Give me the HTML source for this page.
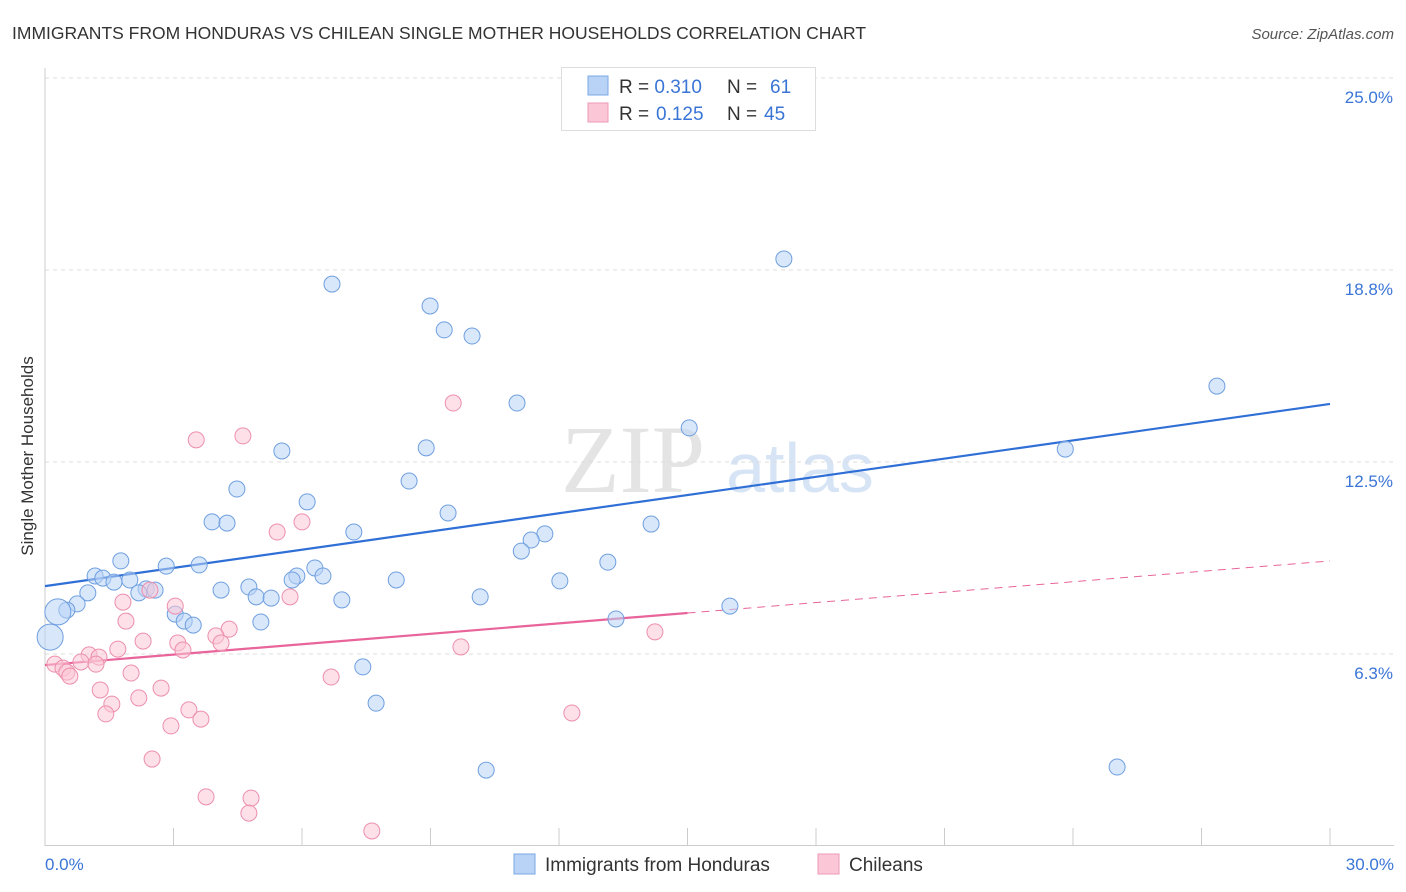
<!DOCTYPE html>
<html><head><meta charset="utf-8"><style>
body{margin:0;background:#fff;font-family:"Liberation Sans",sans-serif;}
svg{display:block}
</style></head><body>
<svg id="c" width="1406" height="892" xmlns="http://www.w3.org/2000/svg">
<text x="12" y="39" font-size="17.5" fill="#333">IMMIGRANTS FROM HONDURAS VS CHILEAN SINGLE MOTHER HOUSEHOLDS CORRELATION CHART</text>
<text x="1394" y="39" font-size="15" fill="#555" font-style="italic" text-anchor="end">Source: ZipAtlas.com</text>
<text x="33" y="456" font-size="17" fill="#333" text-anchor="middle" transform="rotate(-90 33 456)">Single Mother Households</text>
<g><text x="633" y="492" font-size="96" fill="#e4e4e4" font-family="Liberation Serif,serif" text-anchor="middle">ZIP</text><text x="800" y="492" font-size="70" fill="#d6e4f5" text-anchor="middle">atlas</text></g>
<g id="grid"></g><g id="axes"></g><g id="lines"></g><g id="pts"></g>
<g>
<rect x="561.500" y="67.500" width="254" height="63" fill="#fff" stroke="#ddd"/>
<rect x="588" y="76" width="20" height="19" fill="#b8d3f5" stroke="#7aa8e6"/>
<rect x="588" y="103" width="20" height="19" fill="#fbc6d6" stroke="#ee9ab5"/>
<text x="619" y="93" font-size="19" fill="#333">R = <tspan fill="#3a75d6">0.310</tspan><tspan x="727">N = </tspan><tspan x="770" fill="#3a75d6">61</tspan></text>
<text x="619" y="120" font-size="19" fill="#333">R = <tspan x="656" fill="#3a75d6">0.125</tspan><tspan x="727">N = </tspan><tspan x="764" fill="#3a75d6">45</tspan></text>
</g>
<g>
<rect x="514" y="854" width="21" height="20" fill="#b8d3f5" stroke="#7aa8e6"/>
<text x="545" y="871" font-size="19" fill="#333">Immigrants from Honduras</text>
<rect x="818" y="854" width="21" height="20" fill="#fbc6d6" stroke="#ee9ab5"/>
<text x="849" y="871" font-size="19" fill="#333">Chileans</text>
</g>
</svg>
<script>
const yTicks=[6.25,12.5,18.75,25];
const yTickLabels=["6.3%","12.5%","18.8%","25.0%"];
const xTickLabels=["0.0%","30.0%"];
const blueX=[6.70,17.25,8.99,9.32,9.97,11.02,27.36,15.04,5.53,8.90,23.82,8.50,4.48,6.12,9.41,3.90,4.25,14.15,7.21,11.67,11.35,11.12,1.77,13.14,2.83,3.60,6.30,1.17,1.35,1.98,1.61,5.88,6.49,5.77,8.20,12.02,4.76,4.11,2.36,2.57,2.19,1.00,4.93,5.28,6.93,10.16,0.75,15.99,0.51,0.30,3.04,3.25,3.46,5.04,13.33,0.12,7.42,7.73,10.30,25.03];
const blueY=[18.29,19.11,17.58,16.80,16.60,14.42,14.97,13.61,12.86,12.96,12.92,11.88,11.62,11.20,10.84,10.55,10.51,10.48,10.22,10.16,9.96,9.60,9.28,9.24,9.11,9.15,9.05,8.79,8.72,8.66,8.59,8.79,8.79,8.66,8.66,8.63,8.43,8.33,8.37,8.33,8.24,8.24,8.11,8.07,8.01,8.11,7.88,7.81,7.68,7.62,7.55,7.32,7.19,7.29,7.39,6.80,5.83,4.65,2.47,2.57];
const pinkX=[9.53,4.62,3.53,6.00,5.42,1.82,3.04,5.72,2.45,1.89,4.30,3.99,14.24,2.29,3.10,4.11,3.22,9.71,1.70,1.03,1.26,0.84,1.19,0.23,0.42,0.51,0.58,2.01,6.68,1.29,2.71,2.19,1.56,1.42,3.36,3.64,2.94,12.30,2.50,3.76,4.81,4.76,7.63];
const pinkY=[14.42,13.35,13.22,10.55,10.22,7.94,7.81,8.11,8.33,7.32,7.06,6.84,6.97,6.67,6.61,6.61,6.38,6.48,6.41,6.22,6.15,5.99,5.92,5.92,5.79,5.66,5.53,5.63,5.50,5.08,5.14,4.82,4.62,4.30,4.43,4.13,3.91,4.33,2.83,1.60,1.56,1.07,0.49];
const blueTrend=[8.46,14.39];
const pinkTrend=[5.89,9.28];
const pinkSolidEnd=15;
const X=v=>45+v*(1285/30), Y=v=>846-v*30.72;
const NS="http://www.w3.org/2000/svg";
function mk(p,t,a){const e=document.createElementNS(NS,t);for(const k in a)e.setAttribute(k,a[k]);p.appendChild(e);return e;}
const grid=document.getElementById('grid'),axes=document.getElementById('axes'),lines=document.getElementById('lines'),pts=document.getElementById('pts');
yTicks.forEach((t,i)=>{
 const l=mk(grid,'line',{x1:45,x2:1394,y1:Y(t),y2:Y(t),stroke:'#ddd','stroke-dasharray':'4,4'});
 
 
 const tx=mk(grid,'text',{x:1393,y:Y(t)+25,'font-size':17,fill:'#3a75d6','text-anchor':'end'});
 tx.textContent=yTickLabels[i];
 
 
});
const ax=mk(axes,'line',{x1:45,x2:45,y1:68,y2:846,stroke:'#ccc'});


const bx=mk(axes,'line',{x1:45,x2:1394,y1:845.5,y2:845.5,stroke:'#ccc'});


for(let i=1;i<=10;i++){const v=i*3;const t=mk(axes,'line',{x1:X(v),x2:X(v),y1:828,y2:846,stroke:'#ccc'});
 
 }
[[0,'start',45],[30,'end',1394]].forEach((d,i)=>{const t=mk(axes,'text',{x:d[2],y:870,'font-size':17,fill:'#3a75d6','text-anchor':d[1]});t.textContent=xTickLabels[i];
 
 });
function pt(x,y,f,s,big){const c=mk(pts,'circle',{cx:X(x),cy:Y(y),r:big?13:8,fill:f,'fill-opacity':0.55,stroke:s,'stroke-width':1});return c;}
blueX.forEach((x,i)=>{const c=pt(x,blueY[i],'#b8d3f5','#6f9fe0',i===49||i===55);
 
 });
pinkX.forEach((x,i)=>{const c=pt(x,pinkY[i],'#fbc6d6','#ec8fae',false);
 
 });
const bl=mk(lines,'line',{x1:X(0),y1:Y(blueTrend[0]),x2:X(30),y2:Y(blueTrend[1]),stroke:'#2f6fd6','stroke-width':2.2});


const pm=pinkTrend[0]+(pinkTrend[1]-pinkTrend[0])*pinkSolidEnd/30;
const pl=mk(lines,'line',{x1:X(0),y1:Y(pinkTrend[0]),x2:X(pinkSolidEnd),y2:Y(pm),stroke:'#e8649a','stroke-width':2.2});


const pd=mk(lines,'line',{x1:X(pinkSolidEnd),y1:Y(pm),x2:X(30),y2:Y(pinkTrend[1]),stroke:'#e8649a','stroke-width':1,'stroke-dasharray':'8,6'});


</script>
</body></html>
